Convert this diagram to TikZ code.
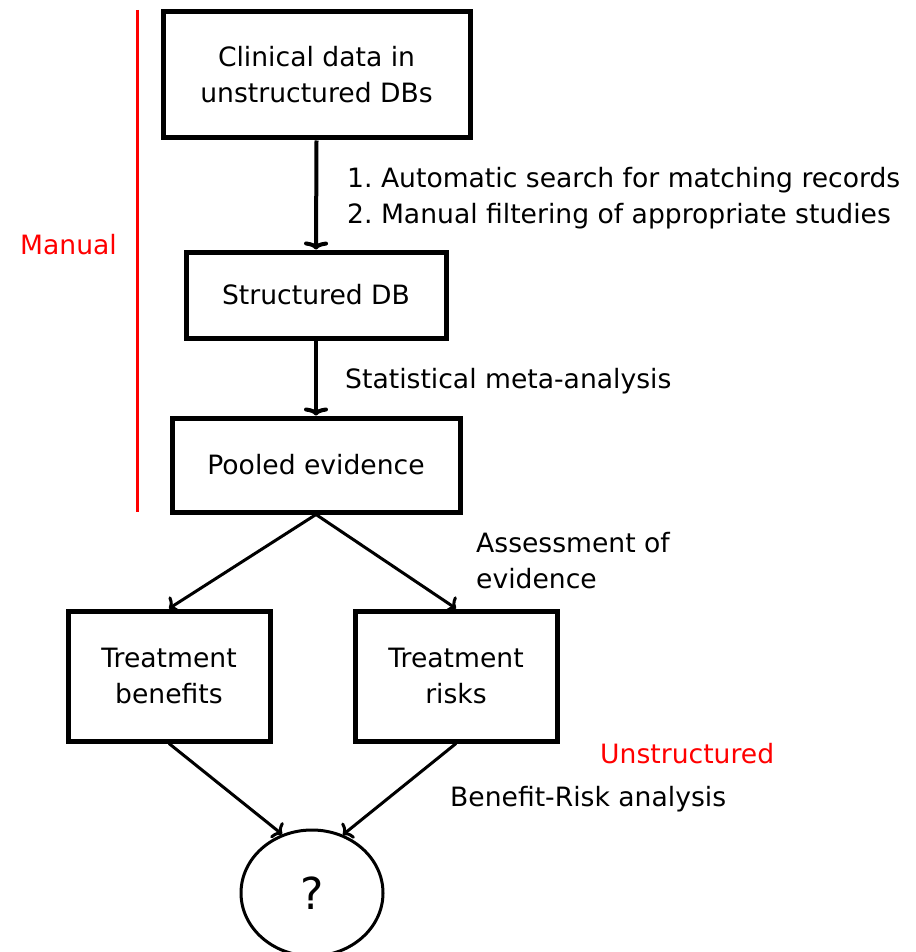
\documentclass[tikz,border=0pt]{standalone}
\usepackage{fontspec}
\setmainfont{DejaVu Sans}
\usetikzlibrary{arrows.meta,shapes.geometric}
\frenchspacing
\begin{document}
\begin{tikzpicture}[x=1pt,y=-1pt,
  font=\fontsize{26.6}{36}\selectfont,
  box/.style={draw, line width=5pt, align=center, inner sep=0pt},
  conn/.style={line width=4pt, -{To[length=8pt,width=24pt]}},
  dconn/.style={line width=3pt, -{To[length=8pt,width=20pt]}},
  lbl/.style={anchor=west, align=left, inner sep=0pt},
  redlbl/.style={lbl, text=red}]
\useasboundingbox (0,0) rectangle (915,952);
\node[box, minimum width=307pt, minimum height=126pt] (b1) at (316.5,75) {Clinical data in\\unstructured DBs};
\node[box, minimum width=260pt, minimum height=86pt] (b2) at (316,295) {Structured DB};
\node[box, minimum width=288pt, minimum height=94pt] (b3) at (316,465) {Pooled evidence};
\node[box, minimum width=202pt, minimum height=130pt] (b4) at (169,676) {Treatment\\benefits};
\node[box, minimum width=202pt, minimum height=130pt] (b5) at (456,676) {Treatment\\risks};
\node[draw, ellipse, line width=3pt, minimum width=142pt, minimum height=126pt, inner sep=0pt, font=\fontsize{44}{48}\selectfont] (q) at (312,893) {?};
\draw[conn] (b1.south) -- (b2.north);
\draw[conn] (b2.south) -- (b3.north);
\draw[dconn] (b3.south) -- (b4.north);
\draw[dconn] (b3.south) -- (b5.north);
\draw[dconn] (b4.south) -- (q.117);
\draw[dconn] (b5.south) -- (q.62);
\draw[red, line width=3pt] (137,10) -- (137,512);
\node[redlbl] (manual) at (20,245) {Manual};
\node[redlbl] (unstr) at (600,754) {Unstructured};
\node[lbl] (s1) at (347,198) {1. Automatic search for matching records\\2. Manual filtering of appropriate studies};
\node[lbl] (s2) at (345,381) {Statistical meta-analysis};
\node[lbl] (s3) at (476,561) {Assessment of\\evidence};
\node[lbl] (s4) at (450,799) {Benefit-Risk analysis};
\end{tikzpicture}
\end{document}
